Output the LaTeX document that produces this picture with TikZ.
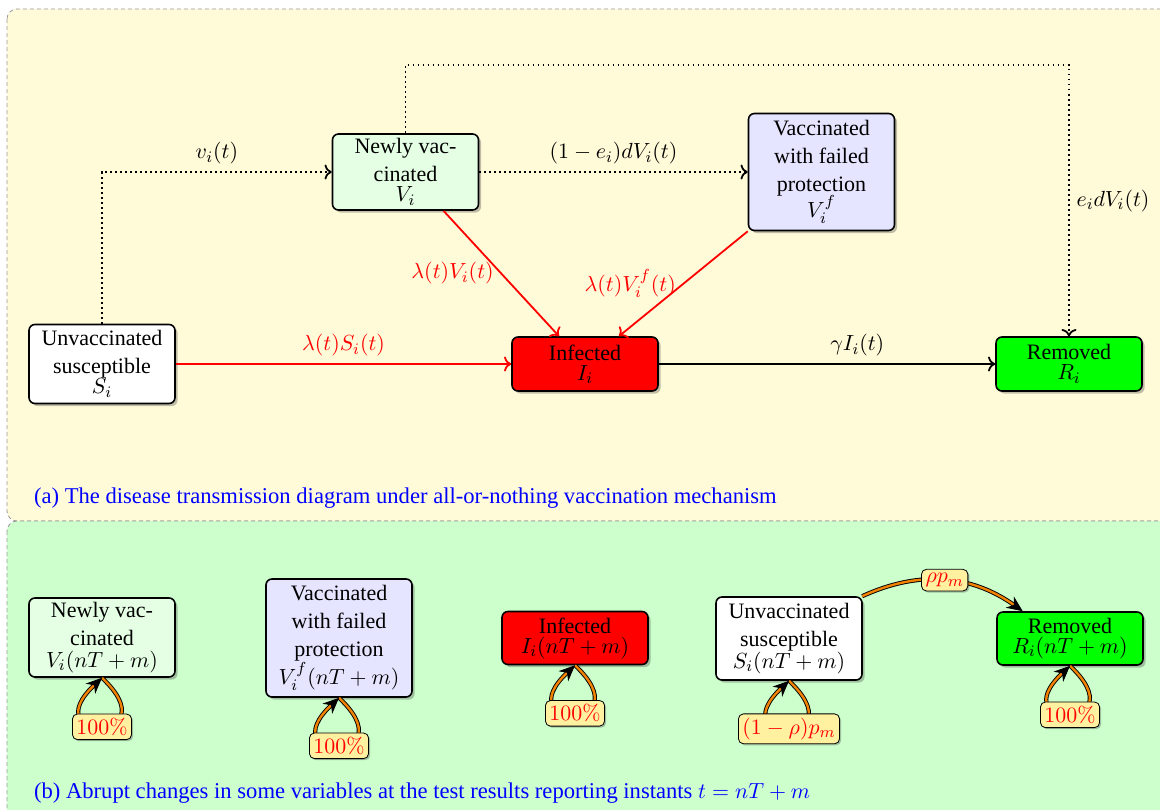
\documentclass[tikz,border=0pt]{standalone}
\usepackage[no-math]{fontspec}
\setmainfont{Liberation Serif}
\usetikzlibrary{arrows.meta,shadows}
\definecolor{panelA}{RGB}{255,250,216}
\definecolor{panelB}{RGB}{204,255,204}
\definecolor{pctfill}{RGB}{255,241,160}
\definecolor{jumporange}{RGB}{240,130,0}
\tikzset{
  box/.style={draw, thick, rounded corners=3pt, align=center, minimum width=73pt,
    inner xsep=2pt, inner ysep=2pt,
    drop shadow={shadow xshift=1.3pt, shadow yshift=-1.3pt, fill=black!70, opacity=0.35}},
  flow/.style={line width=0.9pt, ->},
  vflow/.style={flow, dash pattern=on 0.9pt off 1.6pt},
  iflow/.style={flow, red},
  pct/.style={draw, thin, rounded corners=2.5pt, fill=pctfill, text=red, inner sep=2pt,
    drop shadow={shadow xshift=0.8pt, shadow yshift=-0.8pt, fill=black!70, opacity=0.35}},
  jump/.style={draw=black, line width=0.45pt, double=jumporange, double distance=1.2pt,
    -{Stealth[length=8pt,width=7pt]}},
  caption/.style={anchor=base west, text=blue, font=\fontsize{11.3}{14}\selectfont},
  panel/.style={draw=gray!80, dash pattern=on 2pt off 1.5pt, rounded corners=5pt},
}
\begin{document}
\begin{tikzpicture}[x=0.5pt, y=-0.5pt, font=\fontsize{11}{14}\selectfont]
\useasboundingbox (0,0) rectangle (1160,809);
\begin{scope}
  \clip (0,0) rectangle (1160,809);
  \draw[panel, fill=panelA] (7,9) rectangle (1200,521);
  \draw[panel, fill=panelB] (7,521) rectangle (1200,860);
\end{scope}

% ---------- (a) ----------
\node[box, fill=white, minimum height=39.5pt] (S) at (102,364) {Unvaccinated\\susceptible\\[-4pt]$S_i$};
\node[box, fill=green!10, minimum height=38pt] (V) at (405.5,172) {Newly vac-\\cinated\\[-4pt]$V_i$};
\node[box, fill=blue!10, minimum height=58.5pt] (Vf) at (821.5,172) {Vaccinated\\with failed\\protection\\[-1pt]$V_i^f$};
\node[box, fill=red, minimum height=27pt] (I) at (585,364) {Infected\\[-4pt]$I_i$};
\node[box, fill=green, minimum height=27pt] (R) at (1069,364) {Removed\\[-4pt]$R_i$};

\draw[vflow] (S) |- node[above, pos=0.75] {$v_i(t)$} (V);
\draw[vflow] (V) -- node[above] {$(1-e_i)dV_i(t)$} (Vf);
\draw[vflow] (V.north) -- ++(0,-68) -| node[right, pos=0.75] {$e_idV_i(t)$} (R.north);
\draw[iflow] ([xshift=19pt]V.south) -- node[left] {$\lambda(t)V_i(t)$} ([xshift=-13pt]I.north);
\draw[iflow] (Vf.south west) -- node[left] {$\lambda(t)V_i^f(t)$} ([xshift=17pt]I.north);
\draw[iflow] (S) -- node[above] {$\lambda(t)S_i(t)$} (I);
\draw[flow] (I) -- node[above, pos=0.59] {$\gamma I_i(t)$} (R);

\node[caption] (capA) at (27,503) {(a) The disease transmission diagram under all-or-nothing vaccination mechanism};

% ---------- (b) ----------
\node[box, fill=green!10, minimum height=39.5pt] (bV) at (102,637.5) {Newly vac-\\cinated\\[-3pt]$V_i(nT+m)$};
\node[box, fill=blue!10, minimum height=59pt] (bVf) at (339,638) {Vaccinated\\with failed\\protection\\[0pt]$V_i^f(nT+m)$};
\node[box, fill=red, minimum height=26.5pt] (bI) at (575,638) {Infected\\[-4pt]$I_i(nT+m)$};
\node[box, fill=white, minimum height=41.5pt] (bS) at (789,638.5) {Unvaccinated\\susceptible\\[-3pt]$S_i(nT+m)$};
\node[box, fill=green, minimum height=26.5pt] (bR) at (1070,638.5) {Removed\\[-4pt]$R_i(nT+m)$};

\draw[jump] (bV.south) .. controls +(69,65) and +(-69,65) .. (bV.south);
\draw[jump] (bVf.south) .. controls +(69,65) and +(-69,65) .. (bVf.south);
\draw[jump] (bI.south) .. controls +(69,65) and +(-69,65) .. (bI.south);
\draw[jump] (bS.south) .. controls +(69,65) and +(-69,65) .. (bS.south);
\draw[jump] (bR.south) .. controls +(69,65) and +(-69,65) .. (bR.south);
\draw[jump] (bS) to[bend left] coordinate[pos=0.5] (rm) (bR);

\node[pct] (p1) at ([yshift=-24.5pt]bV.south) {$100\%$};
\node[pct] (p2) at ([yshift=-24pt]bVf.south) {$100\%$};
\node[pct] (p3) at ([yshift=-24pt]bI.south) {$100\%$};
\node[pct] (p4) at ([yshift=-24pt]bS.south) {$(1-\rho)p_m$};
\node[pct] (p5) at ([yshift=-24.5pt]bR.south) {$100\%$};
\node[pct] (p6) at (rm) {$\rho p_m$};

\node[caption] (capB) at (27,798) {(b) Abrupt changes in some variables at the test results reporting instants $t=nT+m$};
\end{tikzpicture}
\end{document}
